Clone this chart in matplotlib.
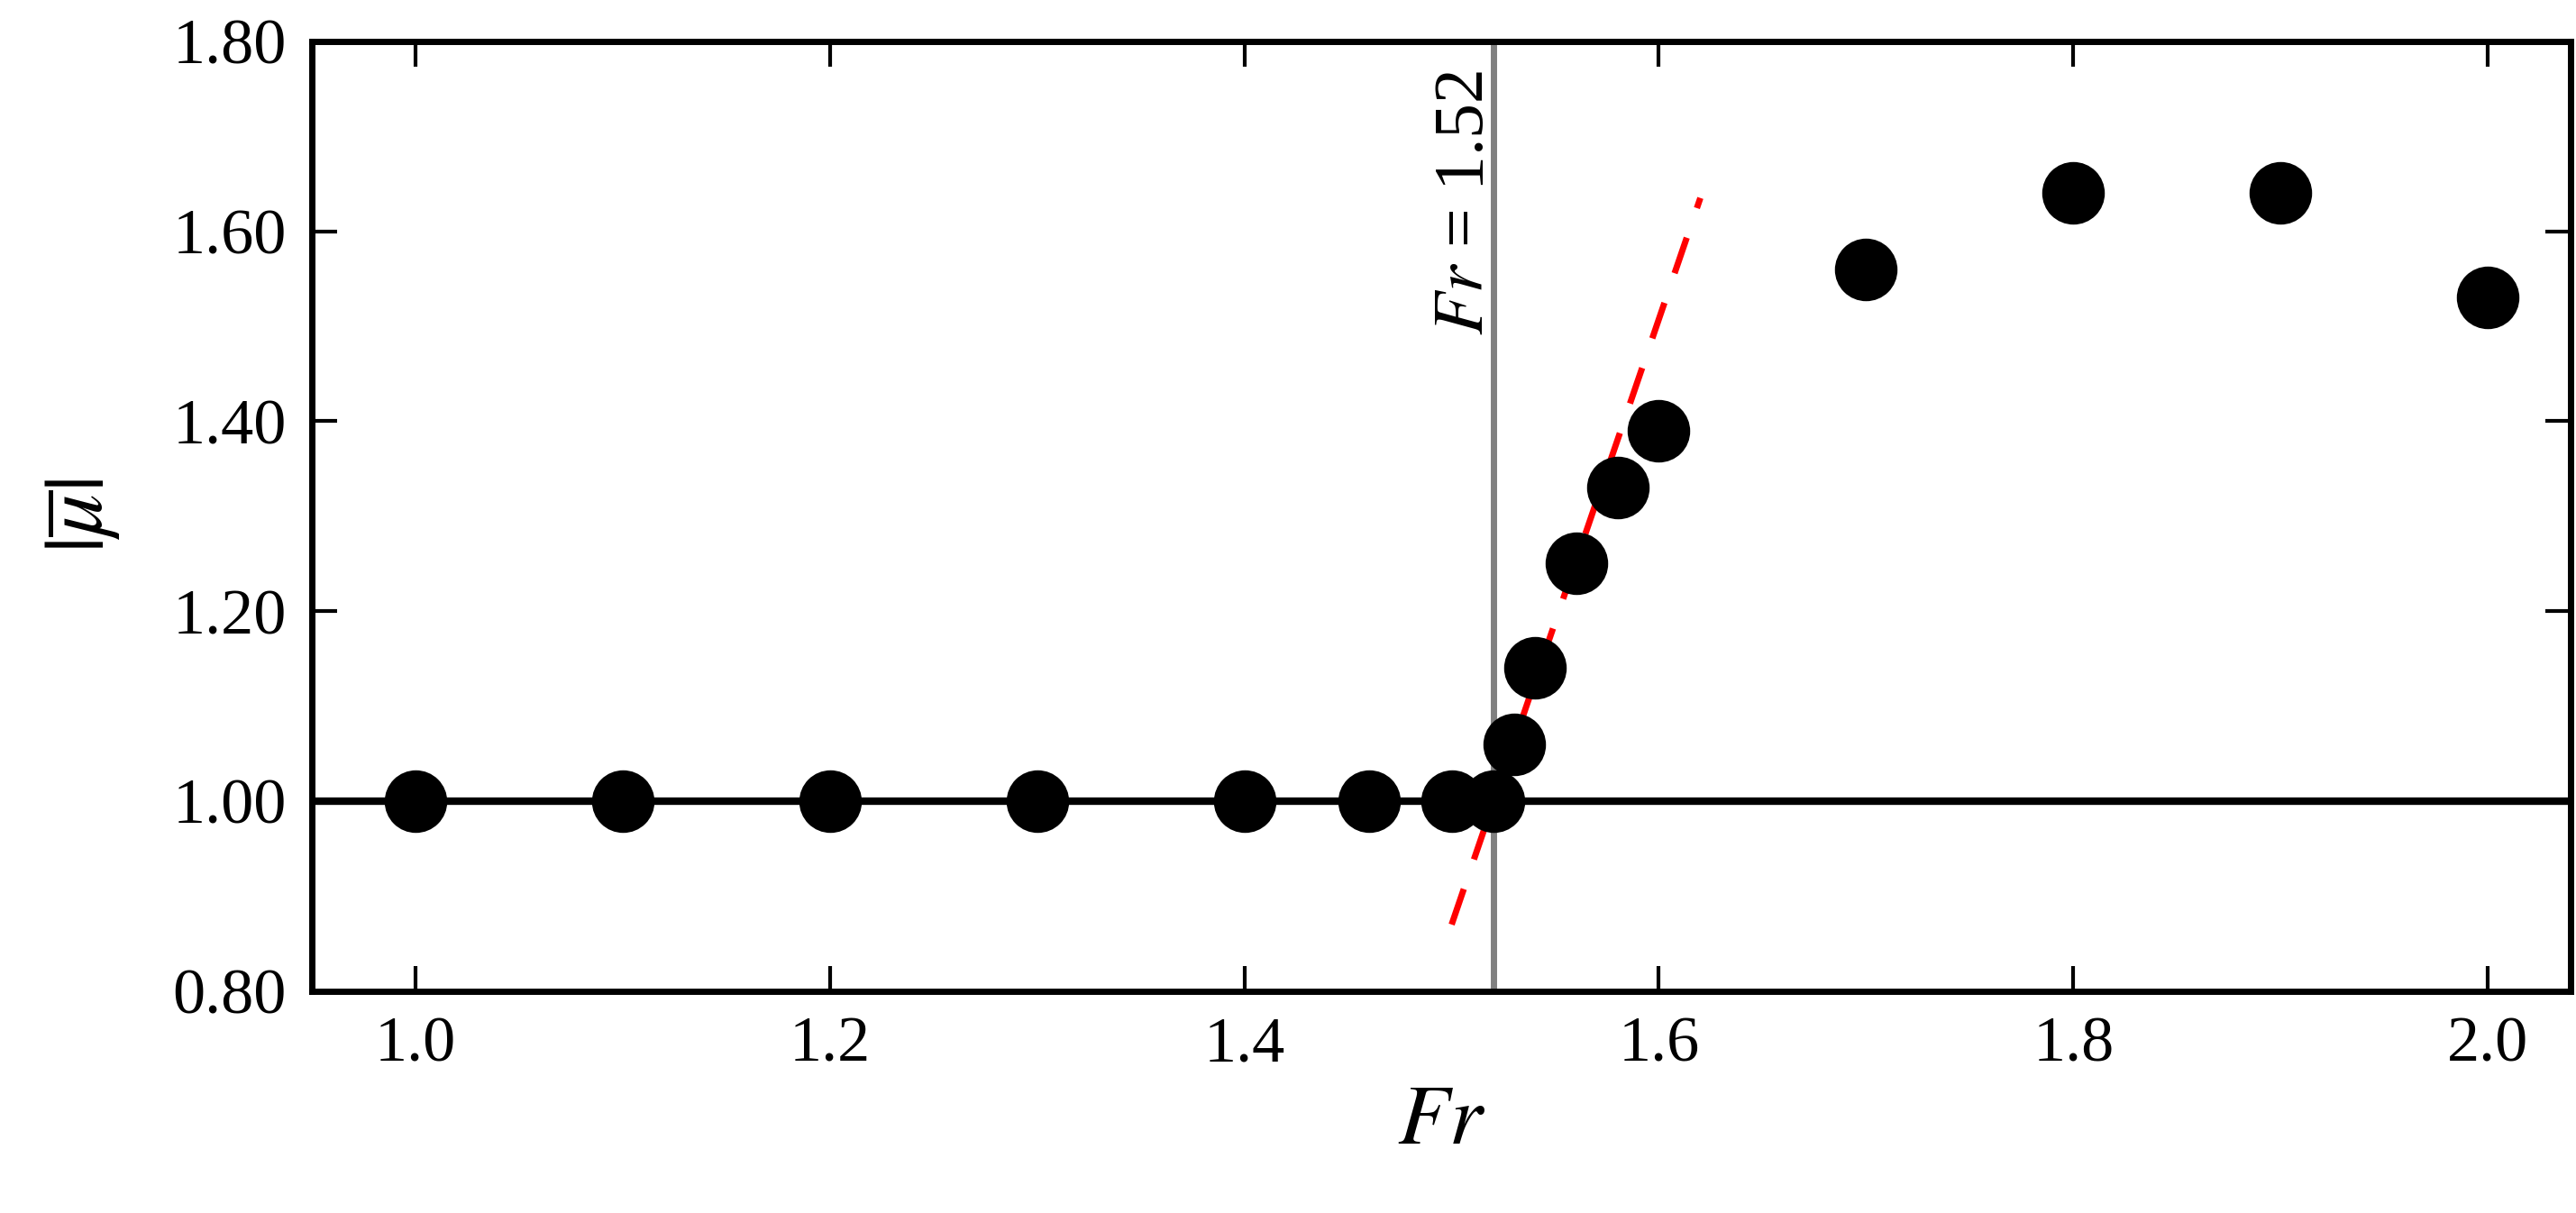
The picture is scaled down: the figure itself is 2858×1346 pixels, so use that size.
import matplotlib
matplotlib.use("Agg")
import matplotlib.pyplot as plt
from matplotlib.ticker import FormatStrFormatter

fr = [1.0, 1.1, 1.2, 1.3, 1.4, 1.46, 1.5, 1.52, 1.53, 1.54, 1.56, 1.58, 1.6, 1.7, 1.8, 1.9, 2.0]
mu = [1.0, 1.0, 1.0, 1.0, 1.0, 1.0, 1.0, 1.0, 1.06, 1.14, 1.25, 1.33, 1.39, 1.56, 1.64, 1.64, 1.53]
fit_x = [1.5, 1.62]
fit_y = [0.87, 1.635]
fr_crit = 1.52

plt.rcParams['font.family'] = ['Liberation Serif', 'DejaVu Serif']
plt.rcParams['mathtext.fontset'] = 'stix'

fig = plt.figure(figsize=(14.29, 6.73), dpi=200)
ax = fig.add_axes([0.121, 0.183, 0.877, 0.783])
ax.axhline(1.0, color='black', lw=3, zorder=1)
ax.axvline(fr_crit, color='gray', lw=2.5, zorder=1)
ax.plot(fit_x, fit_y, color='red', lw=2.5, dashes=(6, 5), zorder=2)
ax.plot(fr, mu, 'o', color='black', ms=24, zorder=3)
ax.text(fr_crit - 0.013, 1.77, r'$Fr$ = 1.52', rotation=90, ha='center', va='top', fontsize=28)
ax.set_xlim(0.95, 2.04)
ax.set_ylim(0.8, 1.8)
ax.set_xticks([1.0, 1.2, 1.4, 1.6, 1.8, 2.0])
ax.set_yticks([0.8, 1.0, 1.2, 1.4, 1.6, 1.8])
ax.yaxis.set_major_formatter(FormatStrFormatter('%.2f'))
ax.tick_params(direction='in', length=10, width=1.5, labelsize=26, top=True, right=True, pad=10)
for s in ax.spines.values():
    s.set_linewidth(2.5)
ax.set_xlabel(r'$Fr$', fontsize=34)
ax.set_ylabel(r'$|\overline{\mu}|$', fontsize=34, labelpad=20)
fig.savefig('out.png', dpi=200)
